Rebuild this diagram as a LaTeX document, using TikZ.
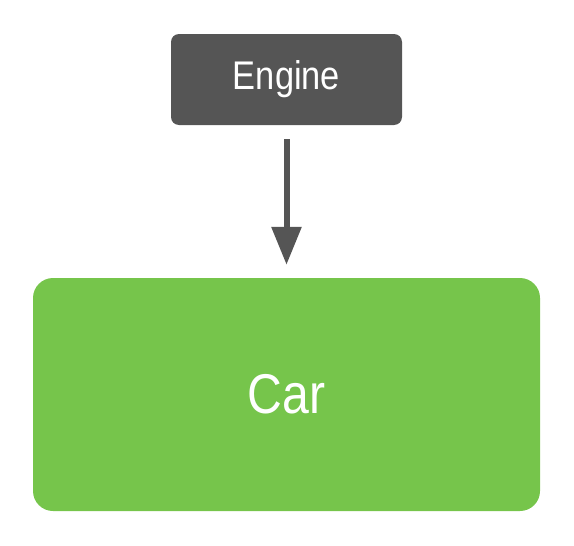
\documentclass[tikz,border=0pt]{standalone}
\usepackage{fontspec}
\setmainfont[FakeStretch=0.86]{Liberation Sans}
\usepackage{tikz}
\usetikzlibrary{arrows.meta,positioning}
\definecolor{enginegray}{HTML}{555555}
\definecolor{cargreen}{HTML}{76C54B}
\tikzset{>={Triangle[width=29pt,length=38pt]},engine node/.style={rectangle,rounded corners=8pt,fill=enginegray,text=white,minimum width=231pt,minimum height=91pt,font=\fontsize{40}{42}\selectfont},car node/.style={rectangle,rounded corners=20pt,fill=cargreen,text=white,minimum width=507pt,minimum height=233pt,font=\fontsize{56}{60}\selectfont},edge/.style={line width=6pt,draw=enginegray,fill=enginegray,shorten <=14pt,shorten >=13pt}}

\begin{document}
\begin{tikzpicture}[x=1pt,y=1pt]
    \useasboundingbox (0,0) rectangle (574,-546);
    \node[engine node, on grid] (v1) at (286.5,-79.5) {Engine};
    \node[car node, on grid] (v2) [below = 315pt of v1] {Car};
    \path[edge] (v1) edge [->] node {} (v2);
  \end{tikzpicture}
\end{document}
